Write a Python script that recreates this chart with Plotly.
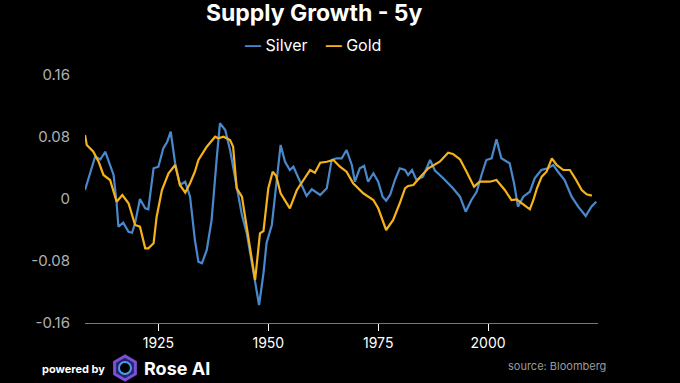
import math
import plotly.graph_objects as go

# ---- data ----
silver_years = [1908.3, 1910.6, 1911.8, 1912.9, 1914.8, 1915.5, 1915.9, 1917.0, 1918.2, 1919.0,
                1919.7, 1920.8, 1922.0, 1922.7, 1923.9, 1925.0, 1926.1, 1927.0, 1927.8, 1928.8,
                1929.9, 1931.1, 1932.2, 1933.3, 1934.1, 1934.9, 1936.0, 1937.1, 1938.3, 1939.0,
                1940.2, 1941.3, 1942.8, 1944.0, 1945.1, 1946.6, 1947.9, 1948.9, 1949.6, 1950.8,
                1951.9, 1952.8, 1953.8, 1954.9, 1955.7, 1957.2, 1958.7, 1959.9, 1961.8, 1963.3,
                1964.4, 1965.5, 1966.7, 1967.8, 1969.0, 1969.7, 1970.8, 1971.8, 1972.7, 1973.9,
                1975.0, 1976.0, 1976.8, 1977.7, 1978.8, 1979.9, 1981.1, 1981.8, 1982.7, 1983.7,
                1985.2, 1986.8, 1987.9, 1989.8, 1992.0, 1993.6, 1994.9, 1996.2, 1997.4, 1998.5,
                1999.6, 2000.8, 2001.9, 2003.0, 2004.3, 2004.9, 2005.9, 2006.8, 2008.0, 2009.5,
                2010.6, 2012.1, 2013.6, 2014.8, 2015.9, 2017.4, 2019.0, 2020.5, 2022.2, 2023.5,
                2024.6]
silver_values = [0.0116, 0.0546, 0.0512, 0.0610, 0.0310, -0.0055, -0.0357, -0.0306, -0.0422, -0.0435,
                 -0.0310, 0.0000, -0.0120, -0.0133, 0.0396, 0.0417, 0.0654, 0.0739, 0.0868, 0.0461,
                 0.0181, 0.0223, 0.0030, -0.0529, -0.0809, -0.0830, -0.0658, -0.0271, 0.0546, 0.0977,
                 0.0890, 0.0632, 0.0159, -0.0206, -0.0443, -0.0959, -0.1368, -0.0959, -0.0568, -0.0335,
                 0.0271, 0.0697, 0.0481, 0.0374, 0.0417, 0.0223, 0.0039, 0.0125, 0.0052, 0.0138,
                 0.0503, 0.0525, 0.0525, 0.0632, 0.0439, 0.0223, 0.0396, 0.0426, 0.0223, 0.0332,
                 0.0223, 0.0030, -0.0022, 0.0052, 0.0245, 0.0396, 0.0374, 0.0310, 0.0374, 0.0245,
                 0.0288, 0.0503, 0.0368, 0.0267, 0.0138, 0.0030, -0.0164, -0.0013, 0.0094, 0.0310,
                 0.0503, 0.0525, 0.0770, 0.0525, 0.0481, 0.0461, 0.0203, -0.0099, 0.0030, 0.0094,
                 0.0267, 0.0374, 0.0396, 0.0439, 0.0352, 0.0245, 0.0030, -0.0099, -0.0219, -0.0099,
                 -0.0035]

gold_years = [1908.3, 1908.7, 1910.2, 1911.4, 1912.5, 1914.0, 1915.5, 1916.8, 1918.2, 1919.7,
              1920.8, 1922.0, 1922.7, 1923.9, 1924.6, 1925.8, 1927.3, 1928.8, 1929.9, 1931.1,
              1932.2, 1933.3, 1934.1, 1936.0, 1937.9, 1938.6, 1939.8, 1941.3, 1942.0, 1942.8,
              1944.0, 1945.1, 1947.0, 1948.1, 1948.9, 1950.0, 1951.0, 1951.8, 1952.8, 1954.9,
              1956.5, 1958.0, 1959.5, 1960.6, 1961.8, 1963.3, 1964.8, 1966.3, 1967.8, 1969.3,
              1971.6, 1973.9, 1975.0, 1976.8, 1978.4, 1979.9, 1981.1, 1981.8, 1983.0, 1984.5,
              1986.4, 1989.0, 1990.9, 1992.0, 1993.6, 1995.1, 1996.8, 1998.1, 2000.4, 2001.9,
              2003.8, 2005.3, 2006.5, 2008.0, 2009.5, 2010.3, 2011.1, 2012.2, 2013.3, 2014.5,
              2015.6, 2017.1, 2018.6, 2019.8, 2021.3, 2022.4, 2023.6]
gold_values = [0.0826, 0.0697, 0.0610, 0.0481, 0.0310, 0.0245, -0.0035, 0.0052, -0.0055, -0.0335,
               -0.0357, -0.0636, -0.0636, -0.0572, -0.0228, 0.0116, 0.0332, 0.0439, 0.0181, 0.0081,
               0.0203, 0.0352, 0.0503, 0.0675, 0.0804, 0.0783, 0.0804, 0.0761, 0.0675, 0.0138,
               0.0030, -0.0357, -0.1045, -0.0443, -0.0413, 0.0138, 0.0352, 0.0297, 0.0074, -0.0120,
               0.0116, 0.0245, 0.0374, 0.0339, 0.0468, 0.0481, 0.0503, 0.0417, 0.0352, 0.0203,
               0.0074, -0.0013, -0.0120, -0.0400, -0.0271, -0.0055, 0.0138, 0.0168, 0.0181, 0.0280,
               0.0396, 0.0481, 0.0597, 0.0581, 0.0512, 0.0352, 0.0159, 0.0223, 0.0223, 0.0245,
               0.0116, -0.0013, -0.0004, -0.0068, -0.0133, -0.0013, 0.0138, 0.0288, 0.0352, 0.0525,
               0.0439, 0.0374, 0.0374, 0.0267, 0.0116, 0.0061, 0.0043]

y_tickvals = [-0.16, -0.08, 0, 0.08, 0.16]
y_ticktext = ["-0.16", "-0.08", "0", "0.08", "0.16"]
x_tickvals = [1925, 1950, 1975, 2000]

SILVER = "#4a88cc"
GOLD = "#f6b21b"
FONT = "Inter, Roboto, Arial, sans-serif"

fig = go.Figure()
fig.add_trace(go.Scatter(x=silver_years, y=silver_values, mode="lines", name="Silver",
                         line=dict(color=SILVER, width=2.2)))
fig.add_trace(go.Scatter(x=gold_years, y=gold_values, mode="lines", name="Gold",
                         line=dict(color=GOLD, width=2.2)))

fig.update_layout(
    width=680, height=383,
    paper_bgcolor="black", plot_bgcolor="black",
    margin=dict(l=85, r=82, t=75, b=60),
    showlegend=False,
    font=dict(family=FONT, color="white"),
    title=dict(text="<b>Supply Growth - 5y</b>", x=0.462, xref="container", xanchor="center",
               y=0.966, yref="container", yanchor="middle",
               font=dict(size=23, color="white", family=FONT)),
    xaxis=dict(range=[1908.3, 2025], tickvals=x_tickvals, showgrid=False, zeroline=False,
               showline=True, linecolor="#777777", linewidth=1,
               ticks="outside", ticklen=7, tickcolor="white", tickwidth=1,
               tickfont=dict(size=14, color="white", family=FONT)),
    yaxis=dict(range=[-0.16, 0.16], tickvals=y_tickvals, ticktext=y_ticktext,
               showgrid=False, zeroline=False, showline=False,
               ticklabelstandoff=14,
               tickfont=dict(size=15, color="#b0b0b0", family=FONT)),
)


def px(xp):
    return (xp - 85) / 513


def py(yp):
    return (323 - yp) / 248


# legend (drawn as text so the swatches stay short like the reference)
fig.add_annotation(
    xref="paper", yref="paper", x=px(313), y=py(45),
    xanchor="center", yanchor="middle", showarrow=False,
    text=f"<span style='color:{SILVER}'><b>\u2014</b></span> Silver&nbsp;&nbsp;&nbsp;&nbsp;"
         f"<span style='color:{GOLD}'><b>\u2014</b></span> Gold",
    font=dict(size=16, color="white", family=FONT))

# footer
fig.add_annotation(xref="paper", yref="paper", x=px(40), y=py(369),
                   xanchor="left", yanchor="middle", showarrow=False,
                   text="<b>powered by</b>", font=dict(size=11, color="white", family=FONT))
fig.add_annotation(xref="paper", yref="paper", x=px(142), y=py(368),
                   xanchor="left", yanchor="middle", showarrow=False,
                   text="<b>Rose AI</b>", font=dict(size=18, color="white", family=FONT))
fig.add_annotation(xref="paper", yref="paper", x=px(608), y=py(366),
                   xanchor="right", yanchor="middle", showarrow=False,
                   text="source: Bloomberg", font=dict(size=11, color="#9a9a9a", family=FONT))

# logo (hexagon ring)
cx, cy, r = 125, 368, 12
pts = [(cx + r * math.cos(math.radians(90 + 60 * k)), cy - r * math.sin(math.radians(90 + 60 * k)))
       for k in range(6)]
path = "M " + " L ".join(f"{px(a):.4f},{py(b):.4f}" for a, b in pts) + " Z"
fig.add_shape(type="path", xref="paper", yref="paper", path=path,
              line=dict(color="#7b4fd8", width=3), fillcolor="#2a1f6e")
fig.add_shape(type="circle", xref="paper", yref="paper",
              x0=px(cx - 6), x1=px(cx + 6), y0=py(cy + 6), y1=py(cy - 6),
              line=dict(color="#3fa0e8", width=2), fillcolor="black")

fig.write_html("out.html", config={"displayModeBar": False},
               post_script="document.body.style.margin='0';document.body.style.background='black';")
